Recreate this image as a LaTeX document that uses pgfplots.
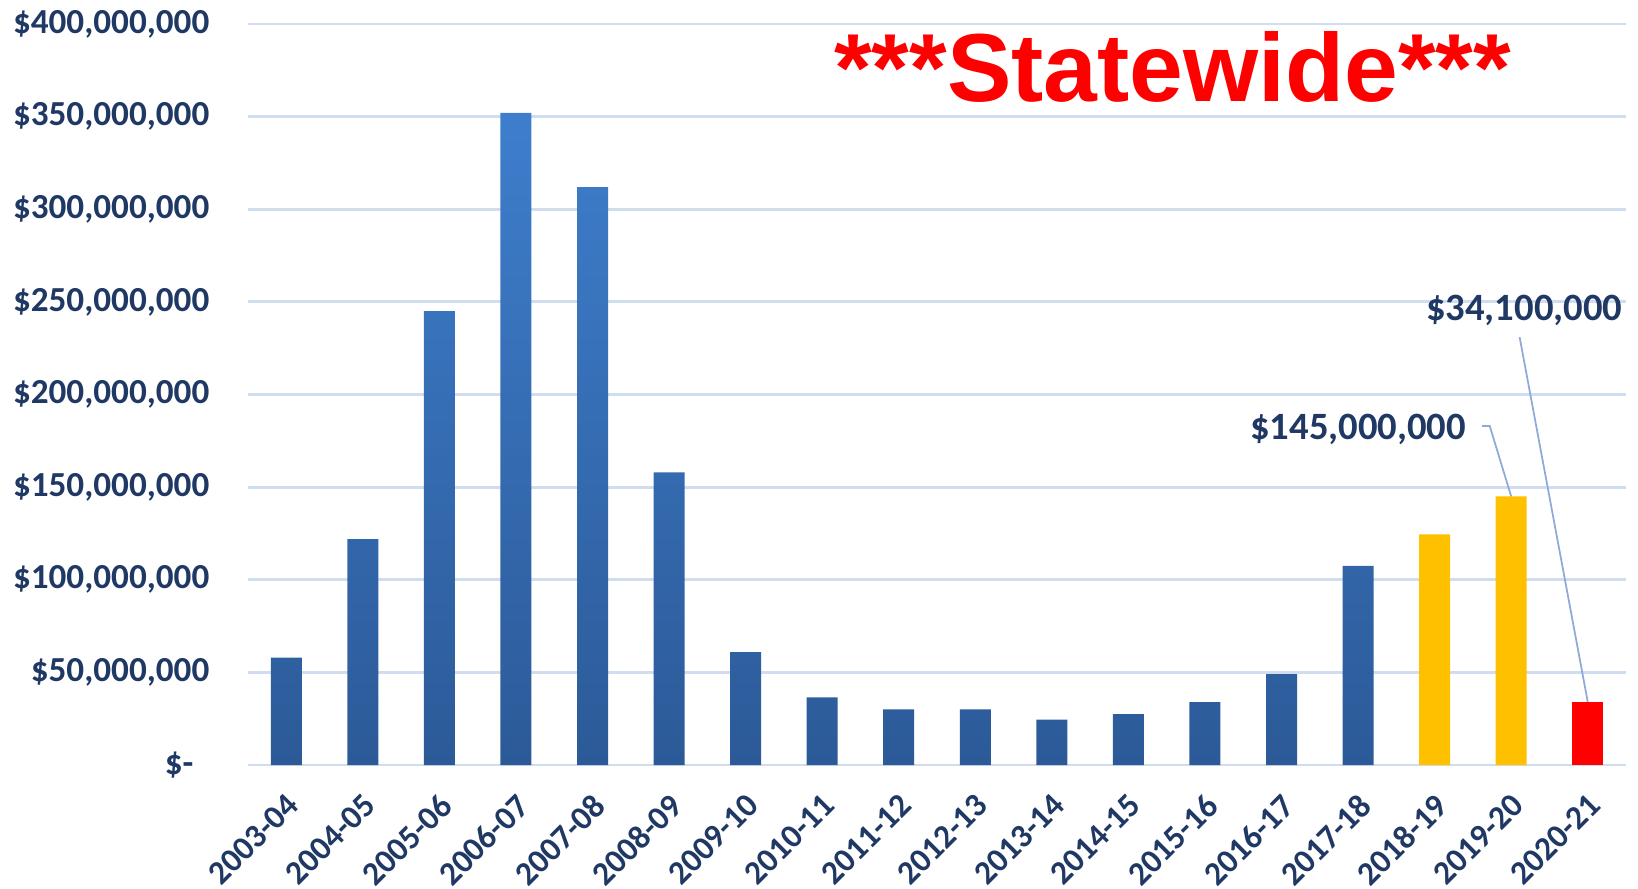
\documentclass[border=0pt]{standalone}
\usepackage{pgfplots}
\pgfplotsset{compat=1.18}
\usepackage{fontspec}
\setmainfont{Carlito}
\newfontfamily\titlefont{Liberation Sans}
\definecolor{navy}{RGB}{31,56,100}
\definecolor{gridc}{RGB}{208,221,238}
\definecolor{bartop}{RGB}{62,126,204}
\definecolor{barbot}{RGB}{44,90,152}
\definecolor{gold}{RGB}{255,192,0}
\definecolor{leader}{RGB}{143,170,216}
\begin{document}
\begin{tikzpicture}
\useasboundingbox (0,0) rectangle (163.8mm,88.8mm);
\begin{axis}[
  at={(24.8mm,12.3mm)}, anchor=south west,
  width=137.8mm, height=74.1mm, scale only axis,
  xmin=-0.5, xmax=17.5, ymin=0, ymax=400,
  axis line style={draw=none},
  ymajorgrids, grid style={gridc, line width=0.8pt},
  major tick length=0pt,
  clip=false,
  ytick={0,50,100,150,200,250,300,350,400},
  yticklabels={{\$-\kern4.5pt},{\$50,000,000},{\$100,000,000},{\$150,000,000},{\$200,000,000},{\$250,000,000},{\$300,000,000},{\$350,000,000},{\$400,000,000}},
  yticklabel style={font=\bfseries\fontsize{10}{12}\selectfont, text=navy, inner sep=0pt, anchor=east, xshift=-3.8mm},
  xtick={0,1,2,3,4,5,6,7,8,9,10,11,12,13,14,15,16,17},
  xticklabels={2003-04,2004-05,2005-06,2006-07,2007-08,2008-09,2009-10,2010-11,2011-12,2012-13,2013-14,2014-15,2015-16,2016-17,2017-18,2018-19,2019-20,2020-21},
  xticklabel style={font=\bfseries\fontsize{9.5}{11}\selectfont, text=navy, inner sep=0pt, xshift=-0.1mm, yshift=-2.6mm, rotate=45, anchor=north east},
]
\addplot[ybar, bar width=0.405, bar shift=0pt, draw=none, top color=bartop, bottom color=barbot]
  coordinates {(0,58) (1,122) (2,245) (3,352) (4,312) (5,158) (6,61) (7,36.5) (8,30) (9,30) (10,24.5) (11,27.5) (12,34) (13,49) (14,107.5)};
\addplot[ybar, bar width=0.405, bar shift=0pt, draw=none, fill=gold]
  coordinates {(15,124.5) (16,145)};
\addplot[ybar, bar width=0.405, bar shift=0pt, draw=none, fill=red]
  coordinates {(17,34.1)};
\draw[leader, line width=0.5pt] (axis cs:15.62,183) -- (axis cs:15.72,183) -- (axis cs:16,145);
\draw[leader, line width=0.5pt] (axis cs:16.11,231) -- (axis cs:17,34.1);
\node[anchor=east, font=\bfseries\fontsize{11}{13}\selectfont, text=navy, inner sep=0pt] at (axis cs:15.42,181.4) {\$145,000,000};
\node[anchor=center, font=\bfseries\fontsize{11}{13}\selectfont, text=navy, inner sep=0pt] at (axis cs:16.17,245.6) {\$34,100,000};
\node[font=\titlefont\bfseries\fontsize{27.5}{30}\selectfont, text=red, anchor=base, inner sep=0pt] at (rel axis cs:0.671,0.895) {***Statewide***};
\end{axis}
\end{tikzpicture}
\end{document}
